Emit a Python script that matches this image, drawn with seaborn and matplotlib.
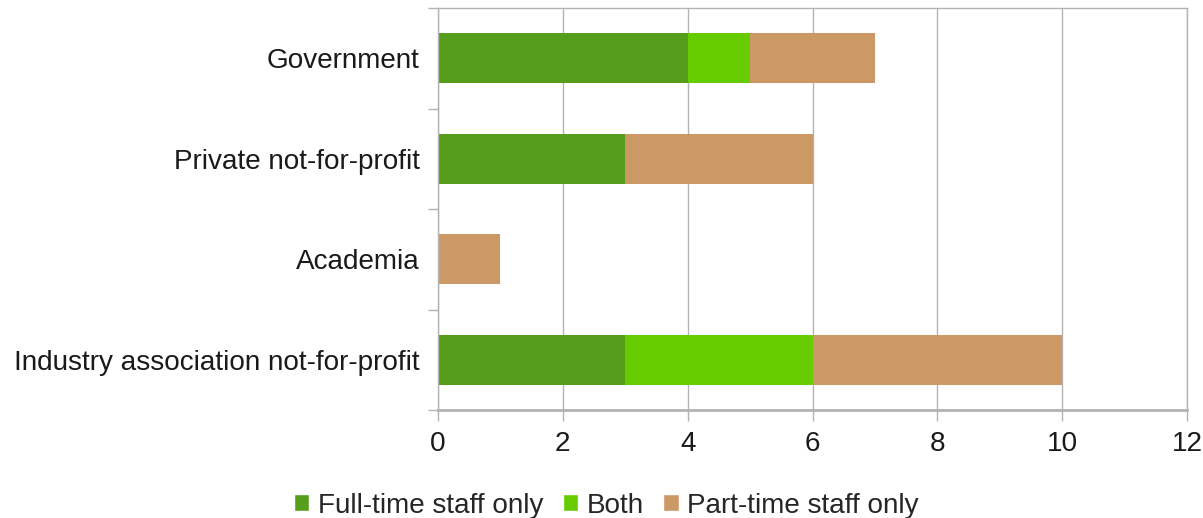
import numpy as np
import pandas as pd
import matplotlib
matplotlib.use("Agg")
import matplotlib.pyplot as plt
import seaborn as sns
from matplotlib.patches import Patch

# data
categories = ["Government", "Private not-for-profit", "Academia",
              "Industry association not-for-profit"]
full_time = [4, 3, 0, 3]
both = [1, 0, 0, 3]
part_time = [2, 3, 1, 4]
series_names = ["Full-time staff only", "Both", "Part-time staff only"]
colors = ["#579d1c", "#66cc00", "#cc9966"]

sns.set_theme(style="white")
plt.rcParams["font.family"] = ["Liberation Sans", "DejaVu Sans"]

df = pd.DataFrame({"category": categories, "full": full_time,
                   "both": both, "part": part_time})
df["c1"] = df["full"]
df["c2"] = df["full"] + df["both"]
df["c3"] = df["c2"] + df["part"]

fig = plt.figure(figsize=(12.03, 5.18), dpi=100)
ax = fig.add_axes([438 / 1203, 1 - 410 / 518, (1187 - 438) / 1203, (410 - 8) / 518])

# stacked bars: draw cumulative totals back to front
for col, color in zip(["c3", "c2", "c1"], colors[::-1]):
    sns.barplot(data=df, x=col, y="category", order=categories, color=color,
                width=0.5, ax=ax, saturation=1, linewidth=0, orient="h")

ax.set_xlim(0, 12)
ax.set_ylim(3.5, -0.5)
ax.set_xticks(np.arange(0, 13, 2))
ax.set_xlabel("")
ax.set_ylabel("")
ax.grid(axis="x", color="#b3b3b3", linewidth=1)
ax.set_axisbelow(True)

fs = 20.1
ax.set_yticks(range(len(categories)))
ax.set_yticklabels(categories)
ax.set_yticks(np.arange(-0.5, 4, 1), minor=True)
ax.tick_params(axis="y", which="major", left=True, length=0, pad=13,
               labelsize=fs, labelcolor="#1a1a1a")
ax.tick_params(axis="y", which="minor", left=True, length=7, color="#b3b3b3", width=1)
ax.tick_params(axis="x", bottom=True, length=8, color="#b3b3b3", width=1,
               labelsize=fs, labelcolor="#1a1a1a", pad=7)

for side in ["left", "top", "right"]:
    ax.spines[side].set_color("#b3b3b3")
    ax.spines[side].set_linewidth(1)
ax.spines["bottom"].set_color("#b3b3b3")
ax.spines["bottom"].set_linewidth(2)

handles = [Patch(facecolor=c, label=n) for c, n in zip(colors, series_names)]
fig.legend(handles=handles, loc="lower center", ncol=3, frameon=False,
           fontsize=fs, handlelength=0.55, handleheight=0.55, handletextpad=0.3,
           columnspacing=0.7, bbox_to_anchor=(0.504, -0.05))

fig.savefig("out.png", dpi=100)
